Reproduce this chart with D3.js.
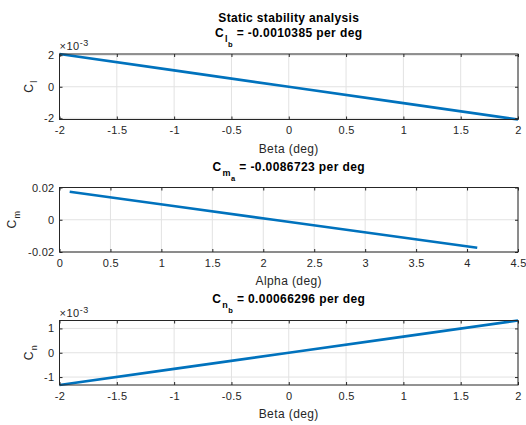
<!DOCTYPE html>
<html>
<head>
<meta charset="utf-8">
<script src="https://cdn.jsdelivr.net/npm/d3@7"></script>
<style>
  html, body { margin: 0; padding: 0; background: #fff; }
  svg { display: block; font-family: "Liberation Sans", Arial, Helvetica, sans-serif; }
</style>
</head>
<body>
<svg id="chart" width="526" height="425"></svg>
<script>
// Rolling moment coefficient vs sideslip
const betaDeg = [-2, -1, 0, 1, 2];
const clValues = [0.0020770, 0.0010385, 0, -0.0010385, -0.0020770];
const clTicks = [-0.002, 0, 0.002];
const clTickLabels = ["-2", "0", "2"];

// Pitching moment coefficient vs angle of attack
const alphaDeg = [0.1, 1.1, 2.1, 3.1, 4.1];
const cmValues = [0.017345, 0.008672, 0, -0.008672, -0.017345];
const cmTicks = [-0.02, 0, 0.02];
const cmTickLabels = ["-0.02", "0", "0.02"];

// Yawing moment coefficient vs sideslip
const cnValues = [-0.0013259, -0.00066296, 0, 0.00066296, 0.0013259];
const cnTicks = [-0.001, 0, 0.001];
const cnTickLabels = ["-1", "0", "1"];

const betaTicks = [-2, -1.5, -1, -0.5, 0, 0.5, 1, 1.5, 2];
const alphaTicks = [0, 0.5, 1, 1.5, 2, 2.5, 3, 3.5, 4, 4.5];

const svg = d3.select("#chart");
const axisColor = "#262626";
const lineColor = "#0072BD";
const left = 59.5, right = 518;

function panel(opts) {
  const g = svg.append("g");
  const x = d3.scaleLinear().domain(opts.xDomain).range([left, right]);
  const y = d3.scaleLinear().domain(opts.yDomain).range([opts.bottom, opts.top]);

  // grid
  g.append("g").selectAll("line").data(opts.xTicks).join("line")
    .attr("x1", d => x(d)).attr("x2", d => x(d))
    .attr("y1", opts.top).attr("y2", opts.bottom)
    .attr("stroke", "#e2e2e2").attr("stroke-width", 1);
  g.append("g").selectAll("line").data(opts.yTicks).join("line")
    .attr("y1", d => y(d)).attr("y2", d => y(d))
    .attr("x1", left).attr("x2", right)
    .attr("stroke", "#e2e2e2").attr("stroke-width", 1);

  // data line
  const pts = opts.xs.map((v, i) => [v, opts.ys[i]]);
  g.append("path").datum(pts)
    .attr("fill", "none").attr("stroke", lineColor).attr("stroke-width", 2.7)
    .attr("d", d3.line().x(d => x(d[0])).y(d => y(d[1])));

  // axes with inward ticks on all sides
  const tickLen = 3;
  const bottomAxis = d3.axisBottom(x).tickValues(opts.xTicks).tickSizeInner(-tickLen).tickSizeOuter(0)
    .tickFormat(d => d3.format("")(d).replace("−", "-")).tickPadding(7);
  const topAxis = d3.axisTop(x).tickValues(opts.xTicks).tickSizeInner(-tickLen).tickSizeOuter(0).tickFormat("");
  const leftAxis = d3.axisLeft(y).tickValues(opts.yTicks).tickSizeInner(-tickLen).tickSizeOuter(0)
    .tickFormat((d, i) => opts.yTickLabels[i]).tickPadding(5);
  const rightAxis = d3.axisRight(y).tickValues(opts.yTicks).tickSizeInner(-tickLen).tickSizeOuter(0).tickFormat("");

  const axes = [
    g.append("g").attr("transform", `translate(0,${opts.bottom})`).call(bottomAxis),
    g.append("g").attr("transform", `translate(0,${opts.top})`).call(topAxis),
    g.append("g").attr("transform", `translate(${left},0)`).call(leftAxis),
    g.append("g").attr("transform", `translate(${right},0)`).call(rightAxis)
  ];
  axes.forEach(a => {
    a.select(".domain").remove();
    a.selectAll("line").attr("stroke", axisColor);
    a.selectAll("text").attr("fill", axisColor).attr("font-size", 11)
      .attr("letter-spacing", 0.3)
      .attr("font-family", "Liberation Sans, Arial, sans-serif");
  });

  // box
  g.append("rect").attr("x", left).attr("y", opts.top)
    .attr("width", right - left).attr("height", opts.bottom - opts.top)
    .attr("fill", "none").attr("stroke", axisColor).attr("stroke-width", 1);

  // exponent marker
  if (opts.exponent) {
    const t = g.append("text").attr("x", left).attr("y", opts.top - 4)
      .attr("font-size", 11).attr("letter-spacing", 0.5).attr("fill", axisColor);
    t.append("tspan").text("×10");
    t.append("tspan").attr("dy", -4).attr("font-size", 9).text(opts.exponent);
  }

  // x label
  g.append("text").attr("x", (left + right) / 2).attr("y", opts.bottom + 33)
    .attr("text-anchor", "middle").attr("font-size", 12).attr("letter-spacing", 0.4)
    .attr("fill", axisColor).text(opts.xLabel);

  // y label with subscript
  const yl = g.append("text")
    .attr("transform", `translate(${opts.yLabelX},${(opts.top + opts.bottom) / 2}) rotate(-90)`)
    .attr("text-anchor", "middle").attr("font-size", 12).attr("fill", axisColor);
  yl.append("tspan").text("C");
  yl.append("tspan").attr("dy", 4).attr("dx", 1.5).attr("font-size", 9).text(opts.yLabelSub);

  // title with nested subscripts
  const tt = g.append("text").attr("x", (left + right) / 2).attr("y", opts.titleY)
    .attr("text-anchor", "middle").attr("font-size", 12).attr("font-weight", "bold")
    .attr("letter-spacing", 0.4).attr("fill", "#000");
  tt.append("tspan").text("C");
  tt.append("tspan").attr("dy", 5).attr("dx", 1).attr("font-size", 9).text(opts.titleSub);
  tt.append("tspan").attr("dy", 5).attr("font-size", 7.5).text(opts.titleSubSub);
  tt.append("tspan").attr("dy", -10).text(" = " + opts.titleValue + " per deg");
}

svg.append("text").attr("x", (left + right) / 2).attr("y", 22)
  .attr("text-anchor", "middle").attr("font-size", 12).attr("font-weight", "bold")
  .attr("letter-spacing", 0.35)
  .text("Static stability analysis");

panel({
  xs: betaDeg, ys: clValues, xDomain: [-2, 2], yDomain: [-0.002077, 0.002077],
  xTicks: betaTicks, yTicks: clTicks, yTickLabels: clTickLabels,
  top: 54, bottom: 119.5, xLabel: "Beta (deg)", yLabelX: 32.5, yLabelSub: "l",
  exponent: "-3", titleY: 37, titleSub: "l", titleSubSub: "b", titleValue: "-0.0010385"
});

panel({
  xs: alphaDeg, ys: cmValues, xDomain: [0, 4.5], yDomain: [-0.02, 0.02],
  xTicks: alphaTicks, yTicks: cmTicks, yTickLabels: cmTickLabels,
  top: 187.5, bottom: 252, xLabel: "Alpha (deg)", yLabelX: 16, yLabelSub: "m",
  exponent: null, titleY: 171, titleSub: "m", titleSubSub: "a", titleValue: "-0.0086723"
});

panel({
  xs: betaDeg, ys: cnValues, xDomain: [-2, 2], yDomain: [-0.0013259, 0.0013259],
  xTicks: betaTicks, yTicks: cnTicks, yTickLabels: cnTickLabels,
  top: 320.5, bottom: 385, xLabel: "Beta (deg)", yLabelX: 32.5, yLabelSub: "n",
  exponent: "-3", titleY: 303, titleSub: "n", titleSubSub: "b", titleValue: "0.00066296"
});
</script>
</body>
</html>
